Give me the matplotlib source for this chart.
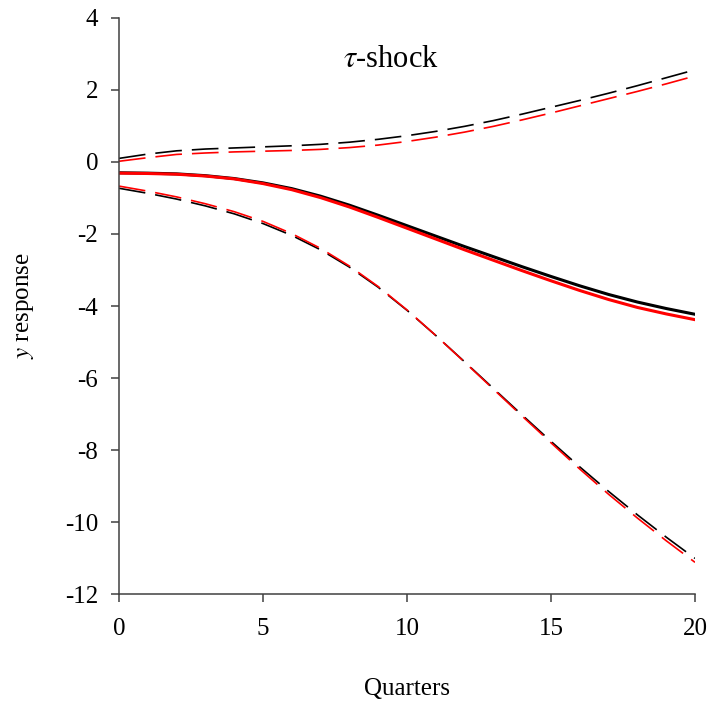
import numpy as np
import matplotlib
matplotlib.use("Agg")
from matplotlib import pyplot as plt

plt.rcParams['font.family'] = ['Liberation Serif', 'DejaVu Serif']
plt.rcParams['mathtext.fontset'] = 'stix'
plt.rcParams['axes.unicode_minus'] = False

quarters = np.arange(0, 21)

# median responses
mid_black = [-0.30, -0.31, -0.33, -0.38, -0.46, -0.58, -0.74, -0.95, -1.20, -1.48, -1.77,
             -2.06, -2.35, -2.63, -2.91, -3.18, -3.44, -3.68, -3.89, -4.07, -4.23]
mid_red = [-0.31, -0.32, -0.34, -0.39, -0.47, -0.60, -0.77, -0.99, -1.25, -1.54, -1.84,
           -2.14, -2.44, -2.73, -3.02, -3.30, -3.57, -3.82, -4.04, -4.22, -4.38]

# upper bands
up_black = [0.10, 0.22, 0.31, 0.36, 0.39, 0.42, 0.45, 0.49, 0.55, 0.63, 0.73,
            0.85, 0.99, 1.15, 1.33, 1.52, 1.71, 1.91, 2.12, 2.34, 2.56]
up_red = [0.02, 0.12, 0.21, 0.25, 0.28, 0.30, 0.32, 0.35, 0.40, 0.47, 0.57,
          0.69, 0.83, 0.99, 1.17, 1.36, 1.56, 1.76, 1.96, 2.17, 2.39]

# lower bands
low_black = [-0.73, -0.87, -1.03, -1.22, -1.44, -1.71, -2.04, -2.44, -2.92, -3.48, -4.12,
             -4.82, -5.55, -6.29, -7.03, -7.76, -8.47, -9.15, -9.80, -10.42, -11.01]
low_red = [-0.67, -0.81, -0.97, -1.16, -1.38, -1.65, -1.99, -2.40, -2.89, -3.46, -4.11,
           -4.82, -5.56, -6.31, -7.06, -7.80, -8.53, -9.23, -9.89, -10.52, -11.12]

fig = plt.figure(figsize=(7.28, 7.02), dpi=100)
ax = fig.add_axes([0.1635, 0.1538, 0.7912, 0.8206])

dash = (16, 6)
ax.plot(quarters, up_black, color='black', lw=1.2, dashes=dash)
ax.plot(quarters, up_red, color='red', lw=1.2, dashes=dash)
ax.plot(quarters, low_black, color='black', lw=1.2, dashes=dash)
ax.plot(quarters, low_red, color='red', lw=1.2, dashes=dash)
ax.plot(quarters, mid_black, color='black', lw=2.2)
ax.plot(quarters, mid_red, color='red', lw=2.2)

ax.set_xlim(0, 20)
ax.set_ylim(-12, 4)
ax.set_xticks([0, 5, 10, 15, 20])
ax.set_yticks(np.arange(-12, 5, 2))

for s in ['top', 'right']:
    ax.spines[s].set_visible(False)
for s in ['left', 'bottom']:
    ax.spines[s].set_color('#404040')
    ax.spines[s].set_linewidth(1.1)

ax.tick_params(axis='both', direction='out', length=6, width=1.1, color='#404040',
               labelsize=18, labelcolor='black')
ax.tick_params(axis='x', pad=11)
ax.tick_params(axis='y', pad=9)

ax.text(7.78, 2.65, r'$\tau$-shock', fontsize=22, ha='left', va='baseline')

ax.set_xlabel('Quarters', fontsize=18)
ax.set_ylabel(r'$y$ response', fontsize=18)
ax.xaxis.set_label_coords(0.5, -0.145)
ax.yaxis.set_label_coords(-0.145, 0.5)

fig.savefig('out.png', dpi=100)
